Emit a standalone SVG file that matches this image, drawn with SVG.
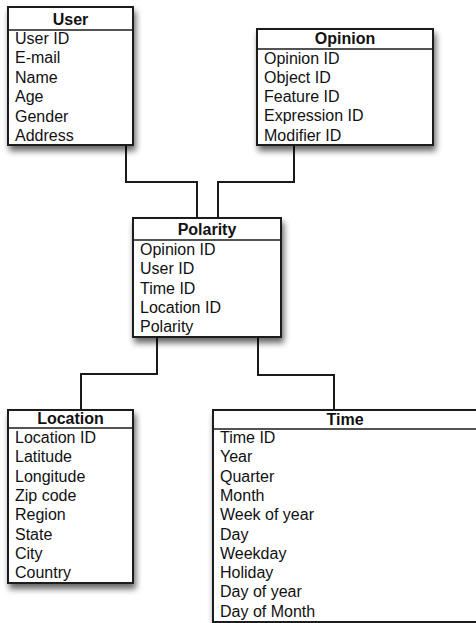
<svg xmlns="http://www.w3.org/2000/svg" width="476" height="623" viewBox="0 0 476 623">
<defs>
<filter id="sh" x="-20%" y="-20%" width="150%" height="150%">
<feGaussianBlur in="SourceAlpha" stdDeviation="3"/>
<feOffset dx="2" dy="5" result="b"/>
<feComponentTransfer><feFuncA type="linear" slope="0.6"/></feComponentTransfer>
<feMerge><feMergeNode/><feMergeNode in="SourceGraphic"/></feMerge>
</filter>
<style>
.box{fill:#fff;stroke:#1a1a1a;stroke-width:2}
.sep{stroke:#1a1a1a;stroke-width:1.6}
.hd{font-family:"Liberation Sans",Arial,sans-serif;font-size:16px;font-weight:bold;fill:#111;text-anchor:middle}
.row{font-family:"Liberation Sans",Arial,sans-serif;font-size:16px;fill:#111}
.conn{fill:none;stroke:#1a1a1a;stroke-width:2}
</style>
</defs>
<rect width="476" height="623" fill="#fff"/>
<g id="connectors">
<path class="conn" d="M126,145 V182 H197 V218"/>
<path class="conn" d="M294,145 V182 H218 V218"/>
<path class="conn" d="M157,337 V374 H81 V410"/>
<path class="conn" d="M258,337 V375 H334 V410"/>
</g>
<g id="user">
<rect class="box" x="8" y="7" width="125" height="138" filter="url(#sh)"/>
<line class="sep" x1="8" y1="30" x2="133" y2="30"/>
<text class="hd" x="70.5" y="25">User</text>
<text class="row" x="15" y="44">User ID</text>
<text class="row" x="15" y="63.4">E-mail</text>
<text class="row" x="15" y="82.8">Name</text>
<text class="row" x="15" y="102.2">Age</text>
<text class="row" x="15" y="121.6">Gender</text>
<text class="row" x="15" y="141">Address</text>
</g>
<g id="opinion">
<rect class="box" x="257" y="29" width="176" height="116" filter="url(#sh)"/>
<line class="sep" x1="257" y1="49" x2="433" y2="49"/>
<text class="hd" x="345" y="44">Opinion</text>
<text class="row" x="264" y="63.5">Opinion ID</text>
<text class="row" x="264" y="82.8">Object ID</text>
<text class="row" x="264" y="102.1">Feature ID</text>
<text class="row" x="264" y="121.4">Expression ID</text>
<text class="row" x="264" y="140.7">Modifier ID</text>
</g>
<g id="polarity">
<rect class="box" x="133" y="218" width="148" height="119" filter="url(#sh)"/>
<line class="sep" x1="133" y1="240" x2="281" y2="240"/>
<text class="hd" x="207" y="235">Polarity</text>
<text class="row" x="140" y="255">Opinion ID</text>
<text class="row" x="140" y="274.3">User ID</text>
<text class="row" x="140" y="293.6">Time ID</text>
<text class="row" x="140" y="312.9">Location ID</text>
<text class="row" x="140" y="332.2">Polarity</text>
</g>
<g id="location">
<rect class="box" x="8" y="410" width="125" height="173" filter="url(#sh)"/>
<line class="sep" x1="8" y1="428" x2="133" y2="428"/>
<text class="hd" x="70.5" y="424">Location</text>
<text class="row" x="15" y="443">Location ID</text>
<text class="row" x="15" y="462.3">Latitude</text>
<text class="row" x="15" y="481.6">Longitude</text>
<text class="row" x="15" y="500.9">Zip code</text>
<text class="row" x="15" y="520.2">Region</text>
<text class="row" x="15" y="539.5">State</text>
<text class="row" x="15" y="558.8">City</text>
<text class="row" x="15" y="578.1">Country</text>
</g>
<g id="time">
<rect class="box" x="213" y="410" width="265" height="212" filter="url(#sh)"/>
<line class="sep" x1="213" y1="429" x2="478" y2="429"/>
<text class="hd" x="345" y="425">Time</text>
<text class="row" x="220" y="443">Time ID</text>
<text class="row" x="220" y="462.3">Year</text>
<text class="row" x="220" y="481.6">Quarter</text>
<text class="row" x="220" y="500.9">Month</text>
<text class="row" x="220" y="520.2">Week of year</text>
<text class="row" x="220" y="539.5">Day</text>
<text class="row" x="220" y="558.8">Weekday</text>
<text class="row" x="220" y="578.1">Holiday</text>
<text class="row" x="220" y="597.4">Day of year</text>
<text class="row" x="220" y="616.7">Day of Month</text>
</g>
</svg>
